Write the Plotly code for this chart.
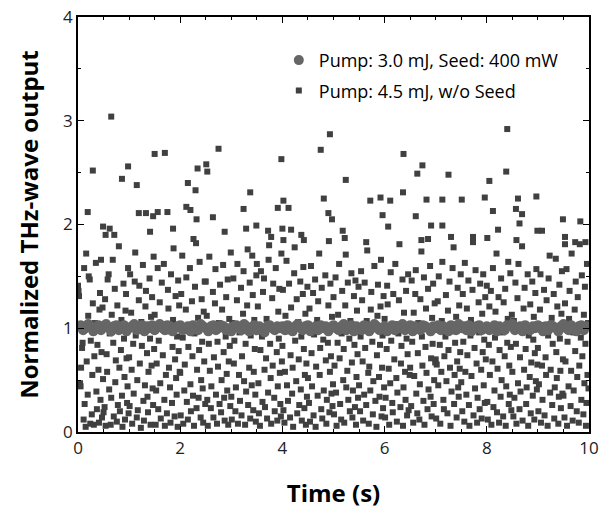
import plotly.graph_objects as go

# ---- data ----
# sparse high shots (w/o seed)
burst_t = [0.65, 8.40, 4.93, 4.75, 2.75, 1.50, 1.70, 6.37, 3.98, 0.98, 6.74, 2.34, 2.51, 2.53, 0.29, 6.64,
           7.25, 8.38, 0.86, 5.24, 1.15, 2.15, 8.05, 2.30, 3.37, 6.36, 8.97, 4.81, 7.96, 5.72, 5.92, 6.11,
           6.82, 7.13, 7.51, 8.61, 4.02, 3.91, 4.12, 2.12, 3.24, 0.19, 1.56, 1.75, 2.20, 8.12, 8.57, 9.49,
           1.19, 1.33, 1.47, 2.32, 2.64, 4.90, 5.96, 6.61, 8.69, 4.97, 9.83, 0.49, 0.62, 1.86, 3.29, 3.49,
           4.00, 4.17, 5.18, 6.07, 6.91, 7.13, 8.22, 8.64, 8.99, 9.08, 0.54, 0.71, 1.41, 2.87, 3.72, 3.78,
           4.37, 5.22, 6.85, 7.30, 7.73, 8.01, 9.53, 8.58, 6.72, 4.02, 2.26, 4.42, 5.64, 9.53, 9.73, 9.93]
burst_y = [3.04, 2.92, 2.87, 2.72, 2.73, 2.68, 2.69, 2.68, 2.63, 2.56, 2.57, 2.54, 2.58, 2.51, 2.52, 2.49,
           2.48, 2.51, 2.44, 2.43, 2.38, 2.40, 2.42, 2.33, 2.31, 2.31, 2.27, 2.25, 2.26, 2.23, 2.26, 2.23,
           2.24, 2.24, 2.24, 2.25, 2.23, 2.16, 2.16, 2.17, 2.15, 2.12, 2.12, 2.12, 2.14, 2.13, 2.15, 2.05,
           2.11, 2.11, 2.08, 2.05, 2.07, 2.11, 2.09, 2.08, 2.10, 2.05, 2.03, 1.98, 1.96, 1.96, 1.96, 1.99,
           1.96, 1.95, 1.94, 1.98, 1.99, 1.99, 1.95, 2.01, 1.94, 1.94, 1.90, 1.90, 1.93, 1.93, 1.94, 1.88,
           1.90, 1.87, 1.86, 1.88, 1.88, 1.87, 1.88, 1.85, 1.85, 1.85, 1.86, 1.85, 1.83, 1.81, 1.83, 1.83]

# bulk of the unseeded shots, 0.5 s at a time
sq_t = [
    0.00,0.01,0.02,0.04,0.05,0.06,0.08,0.09,0.11,0.12,0.13,0.15,0.16,0.17,0.19,0.20,0.21,0.23,0.24,0.25,0.27,0.28,0.29,0.31,0.32,0.33,0.35,0.36,0.37,0.38,0.40,0.41,0.42,0.43,0.44,0.45,0.46,0.47,0.48,0.49,
    0.50,0.52,0.53,0.54,0.56,0.57,0.58,0.60,0.61,0.62,0.64,0.65,0.66,0.68,0.69,0.70,0.72,0.73,0.74,0.76,0.77,0.78,0.80,0.81,0.82,0.84,0.85,0.86,0.87,0.89,0.90,0.91,0.92,0.93,0.94,0.95,0.96,0.97,0.98,0.99,
    1.00,1.01,1.02,1.04,1.05,1.06,1.08,1.09,1.11,1.12,1.13,1.15,1.16,1.17,1.19,1.20,1.21,1.23,1.24,1.25,1.27,1.28,1.29,1.31,1.32,1.33,1.35,1.36,1.37,1.38,1.40,1.41,1.42,1.43,1.44,1.45,1.46,1.47,1.48,1.49,
    1.50,1.52,1.53,1.54,1.56,1.57,1.58,1.60,1.61,1.62,1.64,1.65,1.66,1.68,1.69,1.70,1.72,1.73,1.74,1.76,1.77,1.78,1.80,1.81,1.82,1.84,1.85,1.86,1.87,1.89,1.90,1.91,1.92,1.93,1.94,1.95,1.96,1.97,1.98,1.99,
    2.00,2.01,2.02,2.04,2.05,2.06,2.08,2.09,2.11,2.12,2.13,2.15,2.16,2.17,2.19,2.20,2.21,2.23,2.24,2.25,2.27,2.28,2.29,2.31,2.32,2.33,2.35,2.36,2.37,2.38,2.40,2.41,2.42,2.43,2.44,2.45,2.46,2.47,2.48,2.49,
    2.50,2.52,2.53,2.54,2.56,2.57,2.58,2.60,2.61,2.62,2.64,2.65,2.66,2.68,2.69,2.70,2.72,2.73,2.74,2.76,2.77,2.78,2.80,2.81,2.82,2.84,2.85,2.86,2.87,2.89,2.90,2.91,2.92,2.93,2.94,2.95,2.96,2.97,2.98,2.99,
    3.00,3.01,3.02,3.04,3.05,3.06,3.08,3.09,3.11,3.12,3.13,3.15,3.16,3.17,3.19,3.20,3.21,3.23,3.24,3.25,3.27,3.28,3.29,3.31,3.32,3.33,3.35,3.36,3.37,3.38,3.40,3.41,3.42,3.43,3.44,3.45,3.46,3.47,3.48,3.49,
    3.50,3.52,3.53,3.54,3.56,3.57,3.58,3.60,3.61,3.62,3.64,3.65,3.66,3.68,3.69,3.70,3.72,3.73,3.74,3.76,3.77,3.78,3.80,3.81,3.82,3.84,3.85,3.86,3.87,3.89,3.90,3.91,3.92,3.93,3.94,3.95,3.96,3.97,3.98,3.99,
    4.00,4.01,4.02,4.04,4.05,4.06,4.08,4.09,4.11,4.12,4.13,4.15,4.16,4.17,4.19,4.20,4.21,4.23,4.24,4.25,4.27,4.28,4.29,4.31,4.32,4.33,4.35,4.36,4.37,4.38,4.40,4.41,4.42,4.43,4.44,4.45,4.46,4.47,4.48,4.49,
    4.50,4.52,4.53,4.54,4.56,4.57,4.58,4.60,4.61,4.62,4.64,4.65,4.66,4.68,4.69,4.70,4.72,4.73,4.74,4.76,4.77,4.78,4.80,4.81,4.82,4.84,4.85,4.86,4.87,4.89,4.90,4.91,4.92,4.93,4.94,4.95,4.96,4.97,4.98,4.99,
    5.00,5.01,5.02,5.04,5.05,5.06,5.08,5.09,5.11,5.12,5.13,5.15,5.16,5.17,5.19,5.20,5.21,5.23,5.24,5.25,5.27,5.28,5.29,5.31,5.32,5.33,5.35,5.36,5.37,5.38,5.40,5.41,5.42,5.43,5.44,5.45,5.46,5.47,5.48,5.49,
    5.50,5.52,5.53,5.54,5.56,5.57,5.58,5.60,5.61,5.62,5.64,5.65,5.66,5.68,5.69,5.70,5.72,5.73,5.74,5.76,5.77,5.78,5.80,5.81,5.82,5.84,5.85,5.86,5.87,5.89,5.90,5.91,5.92,5.93,5.94,5.95,5.96,5.97,5.98,5.99,
    6.00,6.01,6.02,6.04,6.05,6.06,6.08,6.09,6.11,6.12,6.13,6.15,6.16,6.17,6.19,6.20,6.21,6.23,6.24,6.25,6.27,6.28,6.29,6.31,6.32,6.33,6.35,6.36,6.37,6.38,6.40,6.41,6.42,6.43,6.44,6.45,6.46,6.47,6.48,6.49,
    6.50,6.52,6.53,6.54,6.56,6.57,6.58,6.60,6.61,6.62,6.64,6.65,6.66,6.68,6.69,6.70,6.72,6.73,6.74,6.76,6.77,6.78,6.80,6.81,6.82,6.84,6.85,6.86,6.87,6.89,6.90,6.91,6.92,6.93,6.94,6.95,6.96,6.97,6.98,6.99,
    7.00,7.01,7.02,7.04,7.05,7.06,7.08,7.09,7.11,7.12,7.13,7.15,7.16,7.17,7.19,7.20,7.21,7.23,7.24,7.25,7.27,7.28,7.29,7.31,7.32,7.33,7.35,7.36,7.37,7.38,7.40,7.41,7.42,7.43,7.44,7.45,7.46,7.47,7.48,7.49,
    7.50,7.52,7.53,7.54,7.56,7.57,7.58,7.60,7.61,7.62,7.64,7.65,7.66,7.68,7.69,7.70,7.72,7.73,7.74,7.76,7.77,7.78,7.80,7.81,7.82,7.84,7.85,7.86,7.87,7.89,7.90,7.91,7.92,7.93,7.94,7.95,7.96,7.97,7.98,7.99,
    8.00,8.01,8.02,8.04,8.05,8.06,8.08,8.09,8.11,8.12,8.13,8.15,8.16,8.17,8.19,8.20,8.21,8.23,8.24,8.25,8.27,8.28,8.29,8.31,8.32,8.33,8.35,8.36,8.37,8.38,8.40,8.41,8.42,8.43,8.44,8.45,8.46,8.47,8.48,8.49,
    8.50,8.52,8.53,8.54,8.56,8.57,8.58,8.60,8.61,8.62,8.64,8.65,8.66,8.68,8.69,8.70,8.72,8.73,8.74,8.76,8.77,8.78,8.80,8.81,8.82,8.84,8.85,8.86,8.87,8.89,8.90,8.91,8.92,8.93,8.94,8.95,8.96,8.97,8.98,8.99,
    9.00,9.01,9.02,9.04,9.05,9.06,9.08,9.09,9.11,9.12,9.13,9.15,9.16,9.17,9.19,9.20,9.21,9.23,9.24,9.25,9.27,9.28,9.29,9.31,9.32,9.33,9.35,9.36,9.37,9.38,9.40,9.41,9.42,9.43,9.44,9.45,9.46,9.47,9.48,9.49,
    9.50,9.52,9.53,9.54,9.56,9.57,9.58,9.60,9.61,9.62,9.64,9.65,9.66,9.68,9.69,9.70,9.72,9.73,9.74,9.76,9.77,9.78,9.80,9.81,9.82,9.84,9.85,9.86,9.87,9.89,9.90,9.91,9.92,9.93,9.94,9.95,9.96,9.97,9.98,9.99,
]
sq_y = [
    1.41,1.36,1.31,0.47,0.44,0.62,0.81,0.86,0.12,1.58,0.27,0.05,1.72,0.68,0.36,1.12,1.50,1.47,0.08,0.88,0.17,0.55,1.24,0.07,0.73,1.05,1.63,0.39,0.22,0.84,0.60,0.09,1.18,1.34,0.31,1.66,0.77,0.14,1.20,0.51,
    0.19,0.24,1.28,0.06,0.75,0.58,1.47,1.52,0.41,0.95,0.07,0.33,1.13,1.66,0.86,0.15,1.38,0.48,0.69,0.10,1.22,0.26,1.79,0.62,0.20,0.79,1.08,0.35,0.05,1.43,0.90,0.53,0.12,1.17,1.33,0.71,0.28,0.44,1.58,0.18,
    0.72,0.25,1.52,1.15,0.60,0.08,0.85,0.37,1.45,1.73,0.93,0.14,0.50,0.21,1.27,1.41,0.66,0.04,1.06,0.83,1.61,0.30,0.11,0.45,1.21,1.36,0.76,0.34,0.19,0.58,1.48,0.90,0.07,1.11,0.64,1.30,0.42,0.26,1.69,0.80,
    1.13,0.07,0.40,0.66,1.58,0.22,0.88,1.25,0.47,0.13,1.44,1.04,0.74,1.62,0.31,0.06,0.55,0.97,0.18,1.37,1.19,0.62,0.43,0.09,1.52,0.28,0.82,1.08,1.77,0.15,0.70,1.31,0.52,0.36,0.92,0.05,1.46,0.78,1.22,0.58,
    0.57,0.16,1.33,1.70,0.91,0.08,0.40,0.65,1.18,1.49,0.29,0.12,0.82,1.03,1.58,0.46,0.20,1.26,0.73,0.35,0.06,0.95,1.40,1.82,0.23,0.60,1.10,0.33,0.79,1.64,0.14,0.50,1.28,0.87,0.42,0.09,1.16,0.68,1.45,0.27,
    1.45,1.12,0.31,0.06,0.85,1.69,0.59,0.23,0.44,0.98,1.35,0.14,0.72,1.24,1.57,0.36,0.08,0.87,0.63,1.05,0.27,1.42,0.19,0.50,1.18,1.61,0.77,0.33,0.11,0.92,1.30,0.56,0.40,1.47,0.07,0.68,1.09,0.83,0.25,1.73,
    0.34,0.12,1.05,1.48,0.66,0.88,0.20,0.43,1.27,1.62,0.08,0.55,0.96,0.30,1.39,0.16,0.73,1.14,1.55,0.49,0.07,0.85,0.39,1.22,1.76,0.26,0.62,1.44,0.13,0.93,0.45,1.70,1.32,0.21,0.58,1.08,0.80,0.36,0.10,1.51,
    1.62,1.21,0.47,0.18,0.06,0.79,1.55,0.92,0.29,1.35,1.48,0.60,0.24,0.71,1.09,0.13,0.38,1.66,1.80,0.85,0.52,0.08,1.29,0.64,1.43,0.33,0.20,1.02,1.58,0.77,0.11,0.44,1.16,0.90,1.38,0.57,0.27,0.15,1.72,0.68,
    0.83,1.37,0.21,0.09,0.58,1.12,1.65,0.45,0.30,0.97,1.43,0.14,0.74,1.20,0.37,0.62,0.05,1.53,1.78,0.88,0.49,1.28,0.18,1.06,0.70,0.26,1.45,0.41,0.92,0.11,1.33,1.59,0.80,0.23,0.55,1.14,0.07,0.66,0.34,1.40,
    0.52,0.28,1.19,0.10,1.60,0.76,0.44,1.34,0.16,0.94,1.47,0.05,0.63,1.08,0.35,1.26,1.72,0.55,0.81,0.22,1.39,0.13,0.89,0.40,1.03,1.51,0.69,0.08,0.31,0.86,1.22,1.84,0.19,0.58,1.43,0.73,0.37,1.11,0.25,0.46,
    1.30,0.17,0.64,1.49,0.38,0.06,0.86,1.13,1.62,0.71,0.27,0.12,0.95,1.36,0.50,0.80,0.09,1.22,1.71,0.43,0.59,1.44,0.31,0.90,0.20,1.07,1.53,0.67,0.14,0.40,1.31,0.84,0.24,1.46,0.07,0.53,1.17,0.75,0.33,1.40,
    0.45,0.20,0.92,1.55,1.27,0.68,0.11,0.36,1.44,0.81,0.26,1.07,1.75,0.57,0.08,0.63,0.40,1.18,1.35,0.87,0.17,0.49,1.60,0.99,0.30,0.05,0.74,1.12,1.42,0.53,0.34,0.84,1.21,1.66,0.15,0.62,0.93,0.23,1.31,0.43,
    1.09,0.14,0.33,0.80,1.41,1.23,0.61,0.07,0.47,1.54,0.88,0.28,0.19,1.33,0.70,1.04,1.62,0.52,0.10,0.38,0.95,1.27,1.81,0.24,0.66,0.83,1.47,0.06,0.43,1.15,0.58,0.31,1.36,0.90,0.16,0.75,1.52,0.21,1.00,0.55,
    0.62,0.25,1.46,0.87,0.09,1.15,0.54,1.33,1.56,0.37,0.18,0.76,1.05,0.12,0.46,1.28,1.74,0.92,0.64,0.30,1.49,0.07,0.82,1.19,0.57,0.22,1.38,0.41,0.98,1.60,0.34,0.71,0.15,1.10,0.85,1.43,0.27,0.50,1.24,0.67,
    0.70,0.13,0.65,1.26,0.45,1.50,0.84,0.08,0.58,1.07,1.64,0.31,0.22,0.73,0.92,1.32,0.49,0.18,1.17,0.79,1.45,0.62,0.06,0.39,0.97,1.58,1.78,0.27,0.55,0.86,1.11,0.14,0.68,1.39,0.43,0.34,1.22,0.61,0.77,1.52,
    0.48,0.20,1.33,0.87,0.10,1.63,0.58,0.36,1.19,0.74,1.46,0.26,0.06,0.93,1.08,0.54,1.37,1.83,0.16,0.81,0.42,1.56,0.66,0.09,0.33,1.25,0.96,0.22,1.43,0.60,0.13,1.14,0.77,1.52,0.45,0.89,0.28,1.30,0.70,1.02,
    1.41,0.29,0.12,0.84,1.21,0.55,1.36,0.07,0.68,1.58,0.24,0.40,0.91,1.16,1.72,0.19,0.61,1.30,0.09,0.79,0.34,1.48,0.50,0.96,0.15,1.25,0.73,1.38,0.06,0.44,0.86,1.09,1.64,0.27,0.64,0.36,1.53,0.82,0.21,1.13,
    0.58,0.15,1.07,0.33,1.44,0.85,0.08,1.29,0.47,1.62,0.22,0.72,0.39,0.98,1.79,0.11,1.19,0.60,1.39,0.80,0.27,0.43,1.52,0.06,0.93,0.53,1.23,0.18,0.67,1.45,0.35,0.89,1.11,0.12,0.76,1.34,0.49,1.57,0.41,0.65,
    0.81,0.20,0.46,1.18,1.52,0.09,0.64,0.31,1.03,1.37,0.16,0.72,0.55,1.27,0.06,0.93,1.48,1.70,0.38,0.60,1.10,0.26,0.85,1.33,0.13,0.43,1.67,0.77,0.52,1.21,0.08,0.34,1.42,0.90,0.59,0.23,1.14,1.55,0.37,0.70,
    0.35,0.14,1.24,0.68,1.57,0.06,0.87,0.44,1.09,1.36,0.25,0.59,1.72,0.11,0.96,0.40,1.18,0.78,1.45,0.20,0.53,1.30,0.09,0.64,1.81,0.91,0.31,1.51,0.73,0.17,1.13,0.47,1.40,0.85,0.06,0.28,1.62,0.55,1.05,0.42,
]

# seeded output (3.0 mJ pump, 400 mW seed)
seed_t = [
    0.00,0.05,0.10,0.15,0.20,0.25,0.30,0.35,0.40,0.45,0.50,0.55,0.60,0.65,0.70,0.75,0.80,0.85,0.90,0.95,
    1.00,1.05,1.10,1.15,1.20,1.25,1.30,1.35,1.40,1.45,1.50,1.55,1.60,1.65,1.70,1.75,1.80,1.85,1.90,1.95,
    2.00,2.05,2.10,2.15,2.20,2.25,2.30,2.35,2.40,2.45,2.50,2.55,2.60,2.65,2.70,2.75,2.80,2.85,2.90,2.95,
    3.00,3.05,3.10,3.15,3.20,3.25,3.30,3.35,3.40,3.45,3.50,3.55,3.60,3.65,3.70,3.75,3.80,3.85,3.90,3.95,
    4.00,4.05,4.10,4.15,4.20,4.25,4.30,4.35,4.40,4.45,4.50,4.55,4.60,4.65,4.70,4.75,4.80,4.85,4.90,4.95,
    5.00,5.05,5.10,5.15,5.20,5.25,5.30,5.35,5.40,5.45,5.50,5.55,5.60,5.65,5.70,5.75,5.80,5.85,5.90,5.95,
    6.00,6.05,6.10,6.15,6.20,6.25,6.30,6.35,6.40,6.45,6.50,6.55,6.60,6.65,6.70,6.75,6.80,6.85,6.90,6.95,
    7.00,7.05,7.10,7.15,7.20,7.25,7.30,7.35,7.40,7.45,7.50,7.55,7.60,7.65,7.70,7.75,7.80,7.85,7.90,7.95,
    8.00,8.05,8.10,8.15,8.20,8.25,8.30,8.35,8.40,8.45,8.50,8.55,8.60,8.65,8.70,8.75,8.80,8.85,8.90,8.95,
    9.00,9.05,9.10,9.15,9.20,9.25,9.30,9.35,9.40,9.45,9.50,9.55,9.60,9.65,9.70,9.75,9.80,9.85,9.90,9.95,
]
seed_y = [
    1.02,1.03,0.98,1.00,1.04,1.02,0.97,1.00,1.03,0.98,1.02,1.04,1.00,0.97,1.02,1.03,0.98,1.00,1.03,0.97,
    1.00,1.02,1.04,0.98,1.00,1.03,0.97,1.02,1.00,1.03,0.98,1.02,1.04,1.00,0.98,1.03,1.02,0.97,1.00,1.02,
    1.03,0.98,1.00,1.02,0.97,1.03,1.00,0.98,1.04,1.02,1.00,0.97,1.02,1.03,0.98,1.00,1.03,1.02,0.98,1.00,
    0.97,1.02,1.03,1.00,0.98,1.04,1.02,0.97,1.00,1.03,0.98,1.02,1.00,0.96,1.02,1.03,1.00,0.98,1.02,1.00,
    1.02,0.98,1.03,1.00,0.97,1.02,1.04,1.00,0.98,1.02,1.03,0.97,1.00,1.02,0.98,1.03,1.00,1.02,0.97,1.00,
    1.03,1.00,0.98,1.02,1.04,0.98,1.00,1.03,0.97,1.02,1.00,0.98,1.03,1.02,0.97,1.00,1.04,1.02,0.98,1.00,
    1.02,0.97,1.00,1.03,0.98,1.02,1.00,1.04,0.98,1.00,1.03,0.97,1.02,1.00,0.98,1.03,1.02,1.00,0.97,1.02,
    1.00,1.03,0.98,1.02,1.00,0.97,1.03,1.02,0.98,1.04,1.00,1.02,0.98,1.03,0.97,1.00,1.02,1.03,0.98,1.00,
    1.02,0.98,1.00,1.03,0.97,1.02,1.00,0.98,1.03,1.02,1.04,0.98,1.00,1.02,0.97,1.03,1.00,0.98,1.02,1.00,
    1.03,1.00,0.97,1.02,0.98,1.03,1.02,1.00,0.97,1.02,1.04,1.00,0.98,1.03,1.00,0.97,1.02,1.03,0.98,1.02,
]

fig = go.Figure()
fig.add_trace(go.Scatter(name='Pump: 4.5 mJ, w/o Seed',
                         x=burst_t + sq_t,
                         y=burst_y + sq_y,
                         mode='markers',
                         marker={'symbol': 'square', 'size': 6, 'color': '#404040'},
                         legendgroup='b',
                         legendrank=2))
fig.add_trace(go.Scatter(name='Pump: 3.0 mJ, Seed: 400 mW',
                         x=seed_t,
                         y=seed_y,
                         mode='markers',
                         marker={'symbol': 'circle', 'size': 10, 'color': '#666666'},
                         legendgroup='a',
                         legendrank=1))

axis_common = dict(showline=True, linecolor='black', linewidth=1.5, mirror='ticks',
                   ticks='inside', ticklen=6, tickwidth=1.2, tickcolor='black',
                   showgrid=False, zeroline=False, automargin=False,
                   tickfont={'size': 17, 'color': '#222'})

fig.update_layout(
    width=603, height=511,
    template='plotly_white',
    font={'family': 'Open Sans', 'color': 'black'},
    margin={'l': 78, 'r': 14, 't': 17, 'b': 79},
    plot_bgcolor='white', paper_bgcolor='white',
    legend={'x': 0.393, 'xanchor': 'left', 'y': 0.94, 'yanchor': 'top',
            'font_size': 18, 'bgcolor': 'rgba(0,0,0,0)',
            'tracegroupgap': 4, 'traceorder': 'grouped'},
    xaxis=dict(axis_common, range=[0, 10], dtick=2, tick0=0,
               minor={'dtick': 0.5, 'ticks': 'inside', 'ticklen': 3, 'tickcolor': 'black'},
               title={'text': '<b>Time (s)</b>', 'font': {'size': 24}, 'standoff': 27}),
    yaxis=dict(axis_common, range=[0, 4], dtick=1, tick0=0,
               minor={'dtick': 0.5, 'ticks': 'inside', 'ticklen': 3, 'tickcolor': 'black'},
               title={'text': '<b>Normalized THz-wave output</b>', 'font': {'size': 24}, 'standoff': 18}),
)

# drop the default page margin so the figure sits at the window's corner
fig.write_html("out.html",
               config={'displayModeBar': False},
               post_script="document.body.style.margin='0px';document.body.style.overflow='hidden';")
